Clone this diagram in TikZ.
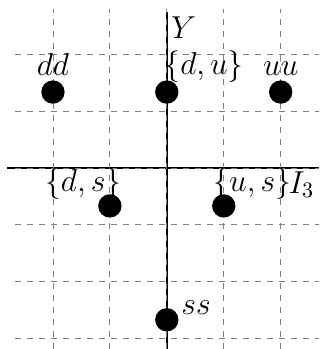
\documentclass[tikz,border=0pt]{standalone}
\usepackage{tikz}
\usetikzlibrary{positioning}

\begin{document}
\begin{tikzpicture}[
			dot/.style      = {circle, fill, inner sep=0pt, minimum size=4.1mm},
			gridline/.style = {dashed, gray},
			axisline/.style = {thick},
			lbl/.style      = {inner sep=0pt, font=\Large, scale=1.1}
			]
			\useasboundingbox (-2.93,-3.18) rectangle (2.68,2.95);

			% axes
			\coordinate (xl) at (-2.81,0);
			\coordinate (xr) at (2.68,0);
			\coordinate (yb) at (0,-3.18);
			\coordinate (yt) at (0,2.74);
			\draw[axisline] (xl) -- (xr);
			\draw[axisline] (yb) -- (yt);

			% dashed grid
			\draw[gridline] (-2.67,-3.18) grid (2.68,2.8);

			% diquark states
			\foreach \name/\x/\y in {dd/-2/1.333, du/0/1.333, uu/2/1.333, ds/-1/-0.667, us/1/-0.667, ss/0/-2.667}
			\node[dot] (\name) at (\x,\y) {};

			% labels
			\node[lbl, above=0.7mm of dd] (ddlbl) {$dd$};
			\node[lbl, above=0.7mm of uu] (uulbl) {$uu$};
			\node[lbl, anchor=base west] (dulbl) at (-0.05,1.65) {$\{d,u\}$};
			\node[lbl, anchor=base east] (dslbl) at (-0.79,-0.42) {$\{d,s\}$};
			\node[lbl, anchor=base west] (uslbl) at (0.81,-0.42) {$\{u,s\}$};
			\node[lbl, anchor=base west] (sslbl) at (0.25,-2.58) {$ss$};
			\node[lbl, anchor=base west] (ylbl) at (0.07,2.27) {$Y$};
			\node[lbl, anchor=base west] (ilbl) at (2.13,-0.44) {$I_3$};
		\end{tikzpicture}
\end{document}
